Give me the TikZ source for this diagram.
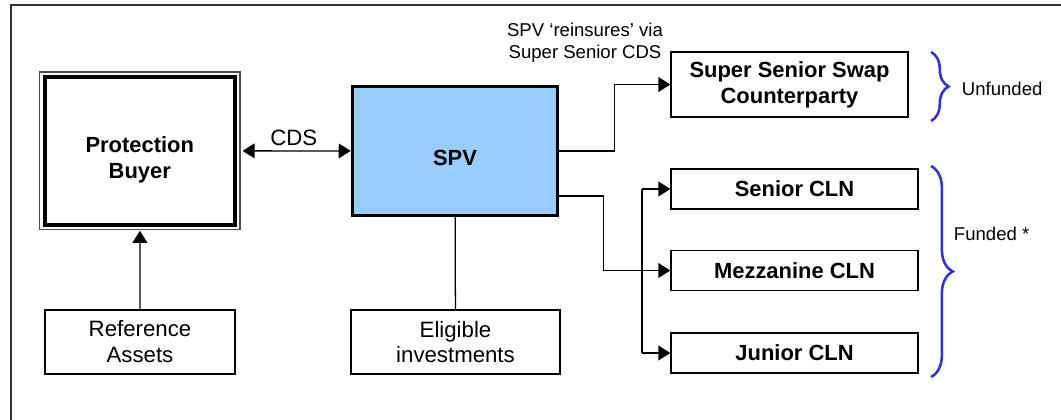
\documentclass[tikz,border=0pt]{standalone}
\usepackage{fontspec}
\setmainfont{Liberation Sans}
\usetikzlibrary{arrows.meta,calc,decorations.pathreplacing}
\definecolor{SpvBlue}{RGB}{153,204,255}
\definecolor{BraceBlue}{RGB}{51,51,204}
\tikzset{
  BoxStyle/.style = { draw, line width=1pt, align=center, font = \fontsize{15.8}{18.4}\selectfont },
  BoldBox/.style = { BoxStyle, font = \fontsize{15.6}{18.4}\selectfont\bfseries },
  NoteStyle/.style = { align=center, font = \fontsize{13.2}{15.6}\selectfont },
  Tip/.tip = { Triangle[length=8.5pt,width=10.5pt] },
  ArrowStyle/.style = { -Tip, line width=0.9pt },
  BraceStyle/.style = { draw=BraceBlue, line width=1.8pt, decorate } }

\begin{document}
\begin{tikzpicture}[x=0.025cm, y=-0.025cm]
  \useasboundingbox (0,0) rectangle (1061,420);
  \draw[line width=1pt, black!80] (11,420) -- (11,5) -- (1061,5);
  % boxes
  \node[BoldBox, line width=2.8pt, minimum width=4.76cm, minimum height=3.69cm,
    label={[font=\fontsize{15.6}{18.4}\selectfont\bfseries, align=center, yshift=-6.5pt]center:Protection\\Buyer}] (buyer) at (139.8,150.8) {};
  \draw[line width=0.8pt, black!70] ([shift={(-2.1pt,2.1pt)}]buyer.north west) rectangle ([shift={(2.1pt,-2.1pt)}]buyer.south east);
  \node[BoxStyle, minimum width=4.75cm, minimum height=1.6cm] (assets) at (140,342) {Reference\\Assets};
  \node[BoldBox, fill=SpvBlue, line width=2.1pt, minimum width=5.14cm, minimum height=3.23cm,
    text height=20pt, text depth=0pt] (spv) at (455,151) {SPV};
  \node[BoxStyle, minimum width=5.22cm, minimum height=1.6cm] (invest) at (455.5,342) {Eligible\\investments};
  \node[BoldBox, minimum width=5.92cm, minimum height=1.62cm] (swap) at (789.5,84.5) {Super Senior Swap\\Counterparty};
  \node[BoldBox, minimum width=6.17cm, minimum height=1cm] (senior) at (794.5,189) {Senior CLN};
  \node[BoldBox, minimum width=6.17cm, minimum height=1cm] (mezz) at (794.5,270.5) {Mezzanine CLN};
  \node[BoldBox, minimum width=6.17cm, minimum height=1cm] (junior) at (794.5,353) {Junior CLN};
  \node[NoteStyle] (reinsNote) at (585,43) {SPV ‘reinsures’ via\\Super Senior CDS};
  % connectors
  \draw[ArrowStyle, shorten >=3pt] (assets) -- (buyer);
  \draw[ArrowStyle, Tip-Tip, shorten <=4pt] (buyer) -- node[above, font=\fontsize{15.8}{18.4}\selectfont] (cdsLabel) {CDS} (spv);
  \draw[line width=0.9pt] (spv) -- (invest);
  \draw[ArrowStyle] (spv.east) -- ++(55,0) |- (swap.west);
  \draw[ArrowStyle] ($(spv.east)+(-3,45)$) -- ++(47,0) |- (mezz.west);
  \coordinate (busTop) at (642,189);
  \coordinate (busBot) at (642,353);
  \draw[line width=0.9pt] (busTop) -- (busBot);
  \draw[ArrowStyle] (busTop) -- (senior.west);
  \draw[ArrowStyle] (busBot) -- (junior.west);
  % braces
  \draw[BraceStyle, decoration={brace, amplitude=12.5pt}] (931,52) -- (931,121);
  \draw[BraceStyle, decoration={brace, amplitude=15.5pt}] (931,166) -- (931,377);
  \node[NoteStyle, anchor=west] (unfundedNote) at (957,89) {Unfunded};
  \node[NoteStyle, anchor=west] (fundedNote) at (949,234) {Funded *};
\end{tikzpicture}
\end{document}
